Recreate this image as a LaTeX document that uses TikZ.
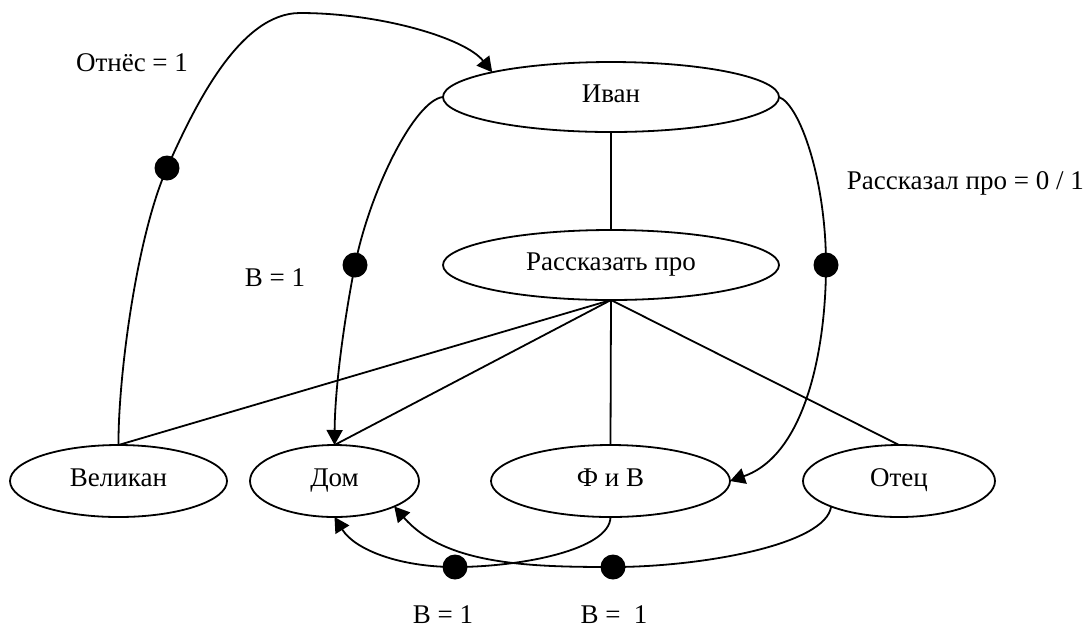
\documentclass[tikz,border=0pt]{standalone}
\usepackage{fontspec}
\setmainfont{Liberation Serif}
\usepackage{tikz}
\usetikzlibrary{shapes.geometric}
\usetikzlibrary{arrows.meta}

\begin{document}
\begin{tikzpicture}[x=0.5pt, y=-0.5pt, line width=0.9pt,
    font=\fontsize{13.5}{16}\selectfont,
    ent/.style={draw, ellipse, inner sep=0pt, outer sep=0pt, minimum height=36pt,
      text height=1.6ex, text depth=0.3ex},
    blob/.style={circle, fill, inner sep=0pt, minimum size=12.5pt},
    arr/.style={-{Triangle[length=7.5pt,width=8pt]}}]
  \useasboundingbox (0,0) rectangle (1083,629);

  \node[ent, minimum width=168pt, minimum height=35pt] (ivan) at (611,97) {Иван};
  \node[ent, minimum width=168pt, minimum height=35pt] (rp) at (611,265) {Рассказать про};
  \node[ent, minimum width=108.5pt] (vel) at (118.5,481) {Великан};
  \node[ent, minimum width=84.5pt] (dom) at (334.5,481) {Дом};
  \node[ent, minimum width=119.5pt] (fiv) at (610.5,481) {Ф и В};
  \node[ent, minimum width=96pt] (otec) at (899,481) {Отец};

  \path (ivan) edge (rp);
  \path (rp.south) edge (vel.north);
  \path (rp.south) edge (dom.north);
  \path (rp.south) edge (fiv.north);
  \path (rp.south) edge (otec.north);

  \node[blob] (d1) at (167,168) {};
  \node[blob] (d2) at (355,265) {};
  \node[blob] (d3) at (826,265) {};
  \node[blob] (d4) at (455,567) {};
  \node[blob] (d5) at (613,567) {};

  \draw[arr] (vel.north) .. controls (118,380) and (136,238) .. (d1.center)
    .. controls (195,105) and (240,13) .. (300,13)
    .. controls (380,13) and (465,38) .. (ivan.north west);
  \draw[arr] (ivan.west) .. controls (415,100) and (370,190) .. (d2.center)
    .. controls (347,305) and (335,380) .. (dom.north);
  \draw[arr] (ivan.east) .. controls (800,105) and (826,180) .. (d3.center)
    .. controls (826,350) and (805,455) .. (fiv.east);
  \draw[arr] (fiv.south) .. controls (610,550) and (520,567) .. (d4.center)
    .. controls (400,567) and (355,550) .. (dom.south);
  \draw[arr] (otec.south west) .. controls (826,545) and (700,567) .. (d5.center)
    .. controls (530,567) and (445,565) .. (dom.south east);

  \node (l1) at (132,63) {Отнёс = 1};
  \node (l2) at (275,278) {В = 1};
  \node[anchor=west, inner sep=0pt] (l3) at (846,183) {Рассказал про = 0 / 1};
  \node (l4) at (443,615) {В = 1};
  \node (l5) at (614,615) {В = \ 1};
\end{tikzpicture}
\end{document}
